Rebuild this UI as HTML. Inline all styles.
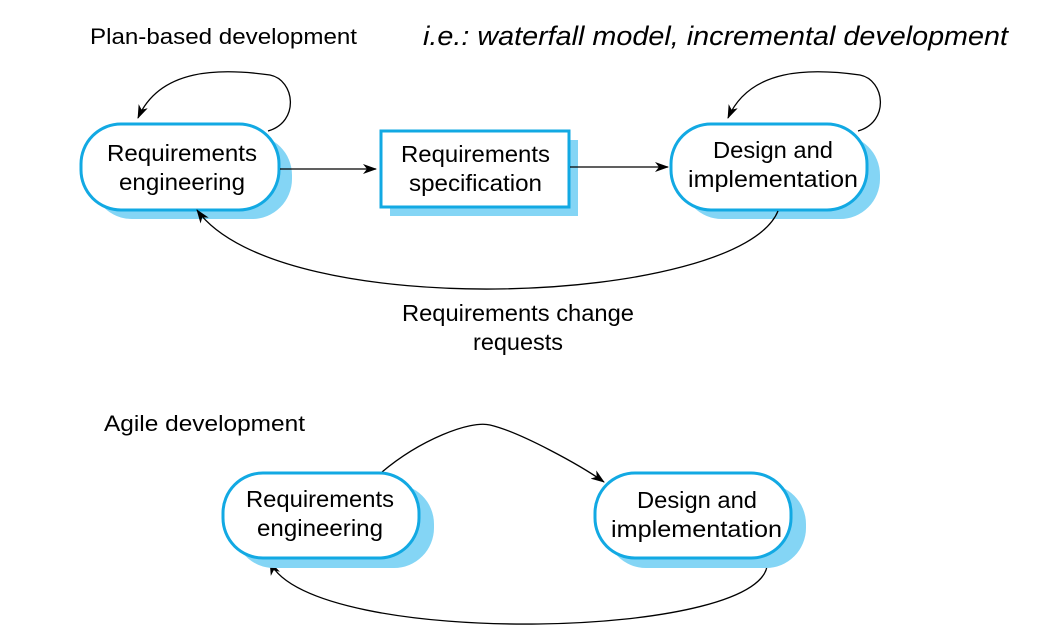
<!DOCTYPE html>
<html><head><meta charset="utf-8"><style>
html,body{margin:0;padding:0;background:#fff;}
svg{display:block;}
text{font-family:"Liberation Sans",sans-serif;fill:#000;}
</style></head><body>
<svg width="1052" height="636" viewBox="0 0 1052 636" xmlns="http://www.w3.org/2000/svg">
<defs>
<marker id="a" markerWidth="14" markerHeight="10" refX="13" refY="5" orient="auto" markerUnits="userSpaceOnUse">
<path d="M0,0 L14,5 L0,10 L4,5 Z" fill="#000"/>
</marker>
</defs>
<g lengthAdjust="spacingAndGlyphs">
<text x="90" y="44" font-size="22" textLength="267" lengthAdjust="spacingAndGlyphs">Plan-based development</text>
<text x="423" y="45" font-size="27" font-style="italic" fill="#222" textLength="585" lengthAdjust="spacingAndGlyphs">i.e.: waterfall model, incremental development</text>
</g>

<rect x="92" y="135" width="200" height="84" rx="40" fill="#84d5f5"/>
<rect x="390" y="140" width="188" height="76" fill="#84d5f5"/>
<rect x="682" y="135" width="198" height="84" rx="40" fill="#84d5f5"/>
<rect x="81" y="124" width="198" height="86" rx="40" fill="#fff" stroke="#12a9e3" stroke-width="3"/>
<rect x="381" y="131" width="188" height="76" fill="#fff" stroke="#12a9e3" stroke-width="3"/>
<rect x="671" y="124" width="196" height="86" rx="40" fill="#fff" stroke="#12a9e3" stroke-width="3"/>

<text x="107" y="161" font-size="23" textLength="150" lengthAdjust="spacingAndGlyphs">Requirements</text>
<text x="119" y="190" font-size="23" textLength="126" lengthAdjust="spacingAndGlyphs">engineering</text>
<text x="401" y="162" font-size="23" textLength="149" lengthAdjust="spacingAndGlyphs">Requirements</text>
<text x="409" y="191" font-size="23" textLength="133" lengthAdjust="spacingAndGlyphs">specification</text>
<text x="713" y="158" font-size="23" textLength="120" lengthAdjust="spacingAndGlyphs">Design and</text>
<text x="688" y="187" font-size="23" textLength="170" lengthAdjust="spacingAndGlyphs">implementation</text>

<g fill="none" stroke="#000" stroke-width="1.3">
<path d="M280,169 L376,169" marker-end="url(#a)"/>
<path d="M570,167 L668,167" marker-end="url(#a)"/>
<path d="M268,131 C300,122 295,80 270,75 C220,68 160,68 138,118" marker-end="url(#a)"/>
<path d="M858,131 C890,122 885,80 860,75 C810,68 750,68 728,118" marker-end="url(#a)"/>
<path d="M778,211 C740,305 280,325 197,210" marker-end="url(#a)"/>
<path d="M382,472 C420,440 470,420 490,425 C520,432 580,465 604,482" marker-end="url(#a)"/>
<path d="M767,560 C780,640 310,650 270,562" marker-end="url(#a)"/>
</g>

<text x="402" y="321" font-size="23" textLength="232" lengthAdjust="spacingAndGlyphs">Requirements change</text>
<text x="473" y="350" font-size="23" textLength="90" lengthAdjust="spacingAndGlyphs">requests</text>

<text x="104" y="431" font-size="22" textLength="201" lengthAdjust="spacingAndGlyphs">Agile development</text>

<rect x="234" y="484" width="200" height="84" rx="40" fill="#84d5f5"/>
<rect x="606" y="484" width="200" height="84" rx="40" fill="#84d5f5"/>
<rect x="223" y="473" width="196" height="85" rx="40" fill="#fff" stroke="#12a9e3" stroke-width="3"/>
<rect x="595" y="473" width="196" height="85" rx="40" fill="#fff" stroke="#12a9e3" stroke-width="3"/>
<text x="246" y="507" font-size="23" textLength="148" lengthAdjust="spacingAndGlyphs">Requirements</text>
<text x="257" y="536" font-size="23" textLength="126" lengthAdjust="spacingAndGlyphs">engineering</text>
<text x="637" y="508" font-size="23" textLength="120" lengthAdjust="spacingAndGlyphs">Design and</text>
<text x="611" y="537" font-size="23" textLength="171" lengthAdjust="spacingAndGlyphs">implementation</text>
</svg>
</body></html>
